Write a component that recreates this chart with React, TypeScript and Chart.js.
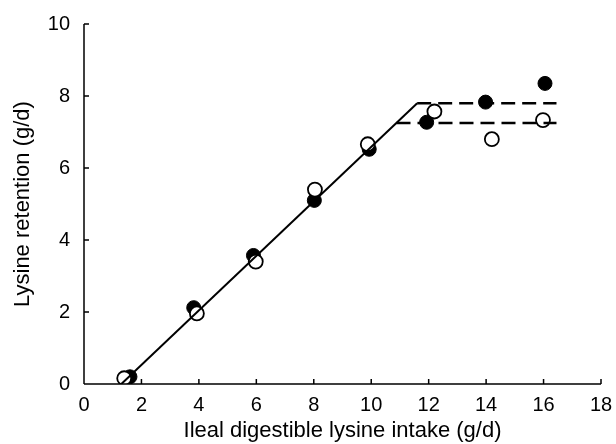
import React, { useEffect, useRef } from "react";
import { Chart, registerables } from "chart.js";

Chart.register(...registerables);

// Filled circles (•)
const filledX = [1.6, 3.82, 5.9, 8.02, 9.93, 11.93, 13.98, 16.05];
const filledY = [0.2, 2.12, 3.57, 5.1, 6.52, 7.27, 7.83, 8.35];
// Open circles (○)
const openX = [1.4, 3.93, 5.98, 8.04, 9.88, 12.2, 14.2, 15.98];
const openY = [0.16, 1.96, 3.4, 5.4, 6.66, 7.57, 6.8, 7.33];
// Broken-line fits
const lineX = [1.3, 11.6];
const lineY = [0, 7.8];
const upperPlateauX = [11.6, 16.45];
const upperPlateauY = [7.8, 7.8];
const lowerPlateauX = [10.88, 16.45];
const lowerPlateauY = [7.25, 7.25];

const xTicks = [0, 2, 4, 6, 8, 10, 12, 14, 16, 18];
const yTicks = [0, 2, 4, 6, 8, 10];

const xTitle = "Ileal digestible lysine intake (g/d)";
const yTitle = "Lysine retention (g/d)";

const zip = (xs: number[], ys: number[]) => xs.map((x, i) => ({ x, y: ys[i] }));

const FONT = "'Liberation Sans', Arial, Helvetica, sans-serif";

const inwardTicks = {
  id: "inwardTicks",
  afterDraw(chart: any) {
    const { ctx, scales } = chart;
    const xs = scales.x;
    const ys = scales.y;
    ctx.save();
    ctx.strokeStyle = "#000";
    ctx.lineWidth = 1.5;
    ctx.beginPath();
    ctx.moveTo(xs.left, ys.getPixelForValue(0));
    ctx.lineTo(xs.right, ys.getPixelForValue(0));
    ctx.moveTo(xs.getPixelForValue(0), ys.bottom);
    ctx.lineTo(xs.getPixelForValue(0), ys.top);
    for (const t of xTicks) {
      const px = xs.getPixelForValue(t);
      const py = ys.getPixelForValue(0);
      ctx.moveTo(px, py);
      ctx.lineTo(px, py - 5);
    }
    for (const t of yTicks) {
      const py = ys.getPixelForValue(t);
      const px = xs.getPixelForValue(0);
      ctx.moveTo(px, py);
      ctx.lineTo(px + 5, py);
    }
    ctx.stroke();
    ctx.restore();
  },
};

export default function App() {
  const ref = useRef<HTMLCanvasElement | null>(null);

  useEffect(() => {
    document.body.style.margin = "0";
    if (!ref.current) return;
    const chart = new Chart(ref.current, {
      type: "scatter",
      data: {
        datasets: [
          {
            type: "line",
            data: zip(lineX, lineY),
            borderColor: "#000",
            borderWidth: 2,
            pointRadius: 0,
            fill: false,
          } as any,
          {
            type: "line",
            data: zip(upperPlateauX, upperPlateauY),
            borderColor: "#000",
            borderWidth: 2.5,
            borderDash: [14, 7],
            pointRadius: 0,
            fill: false,
          } as any,
          {
            type: "line",
            data: zip(lowerPlateauX, lowerPlateauY),
            borderColor: "#000",
            borderWidth: 2.5,
            borderDash: [14, 7],
            pointRadius: 0,
            fill: false,
          } as any,
          {
            data: zip(openX, openY),
            backgroundColor: "#fff",
            borderColor: "#000",
            borderWidth: 1.8,
            pointRadius: 7,
          },
          {
            data: zip(filledX, filledY),
            backgroundColor: "#000",
            borderColor: "#000",
            borderWidth: 1,
            pointRadius: 7,
          },
        ],
      },
      options: {
        animation: false,
        responsive: false,
        maintainAspectRatio: false,
        layout: { padding: { top: 24, right: 15, left: 0, bottom: 0 } },
        plugins: {
          legend: { display: false },
          tooltip: { enabled: false },
        },
        scales: {
          x: {
            type: "linear",
            min: 0,
            max: 18,
            border: { display: false },
            grid: { display: false },
            ticks: {
              stepSize: 2,
              color: "#000",
              font: { family: FONT, size: 20 },
              padding: 1,
              maxRotation: 0,
            },
            title: {
              display: true,
              text: xTitle,
              color: "#000",
              font: { family: FONT, size: 22 },
              padding: { top: 4, bottom: 0 },
            },
            afterFit(scale: any) {
              scale.height = 60;
            },
          },
          y: {
            type: "linear",
            min: 0,
            max: 10,
            border: { display: false },
            grid: { display: false },
            ticks: {
              stepSize: 2,
              color: "#000",
              font: { family: FONT, size: 20 },
              padding: 6,
            },
            title: {
              display: true,
              text: yTitle,
              color: "#000",
              font: { family: FONT, size: 22 },
              padding: { top: 10, bottom: 4 },
            },
            afterFit(scale: any) {
              scale.width = 84;
            },
          },
        },
      },
      plugins: [inwardTicks],
    });
    return () => chart.destroy();
  }, []);

  return (
    <div style={{ width: 616, height: 444 }}>
      <canvas ref={ref} width={616} height={444} />
    </div>
  );
}
